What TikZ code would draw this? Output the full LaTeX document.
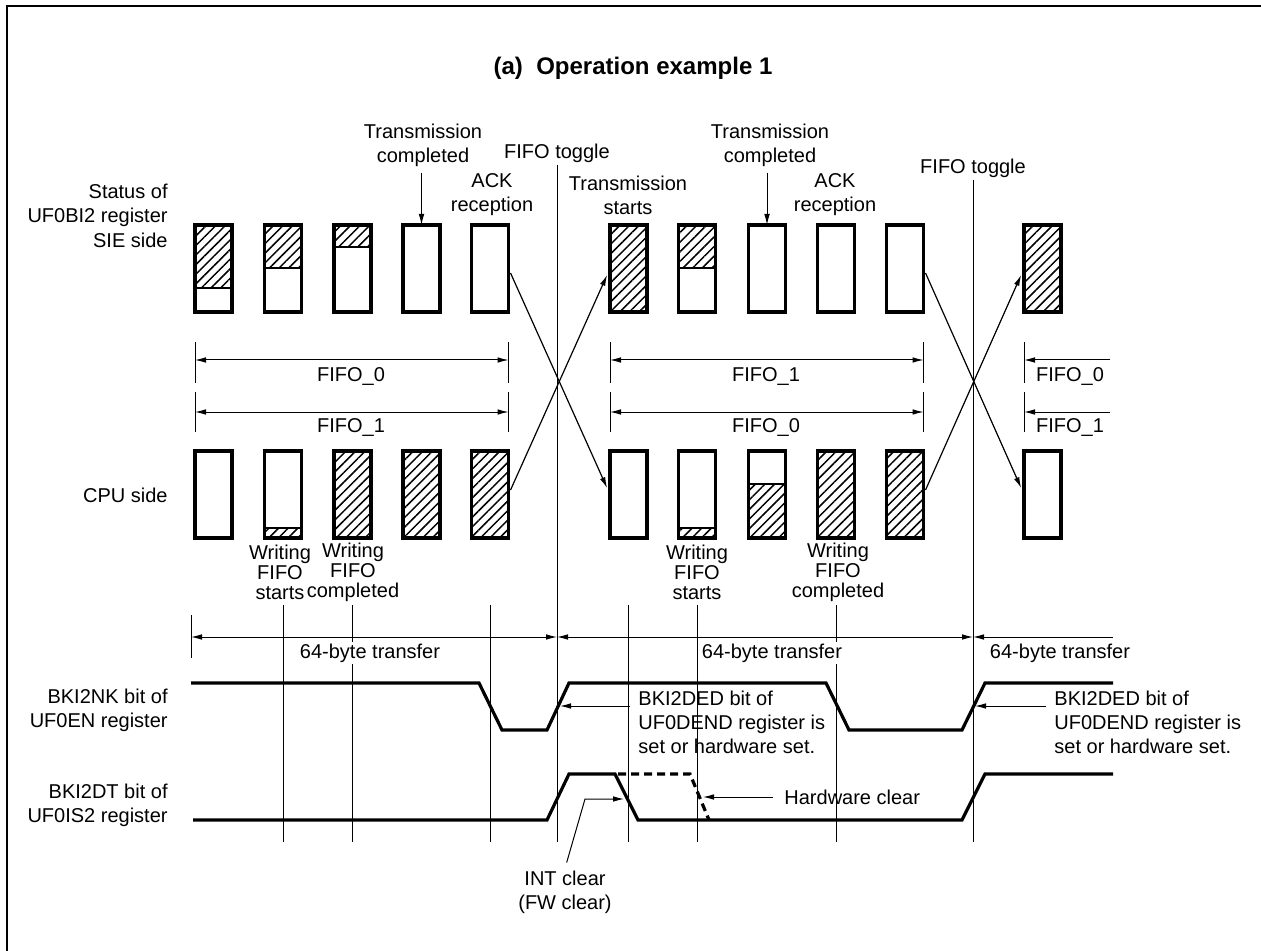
\documentclass[tikz,border=0pt]{standalone}
\usepackage{fontspec}
\setmainfont{Liberation Sans}
\usetikzlibrary{arrows.meta,patterns.meta}

\tikzset{
  hatch/.style={pattern={Lines[angle=45,distance=3.4pt,line width=0.75pt]}},
  fifobox/.style={draw, line width=1.7pt, minimum width=18.5pt, minimum height=43.5pt,
    inner sep=0pt, outer sep=0pt},
  hatchtop/.style={path picture={
    \fill[hatch] (path picture bounding box.north west) rectangle ([yshift=-#1]path picture bounding box.north east);
    \draw[line width=0.6pt] ([yshift=-#1]path picture bounding box.north west) -- ([yshift=-#1]path picture bounding box.north east);}},
  hatchbot/.style={path picture={
    \fill[hatch] (path picture bounding box.south west) rectangle ([yshift=#1]path picture bounding box.south east);
    \draw[line width=0.6pt] ([yshift=#1]path picture bounding box.south west) -- ([yshift=#1]path picture bounding box.south east);}},
  thinline/.style={line width=0.5pt},
  toggleline/.style={line width=0.5pt},
  wave/.style={line width=1.6pt},
  arr/.style={line width=0.5pt, -{Latex[length=5.5pt,width=2.8pt]}},
  dimarr/.style={line width=0.5pt, {Latex[length=5.5pt,width=2.8pt]}-{Latex[length=5.5pt,width=2.8pt]}},
  swap/.style={line width=0.6pt, -{Latex[length=5.5pt,width=2.8pt]}, shorten <=2.5pt, shorten >=3.5pt},
  event/.style={align=center, font=\fontsize{10}{10}\selectfont}
}

\begin{document}
\begin{tikzpicture}[x=0.5pt, y=-0.5pt, every node/.style={font=\fontsize{10}{12}\selectfont, inner sep=1pt}]
  \useasboundingbox (0,0) rectangle (1261,951);
  \draw[line width=1.25pt] (1261,6) -- (7,6) -- (7,951);

  \node[font=\fontsize{12}{14}\selectfont\bfseries] (title) at (633,68) {(a)\ \ Operation example 1};

  % row labels
  \node[anchor=east, align=right] (stat) at (170,205) {Status of\\UF0BI2 register};
  \node[anchor=east] (sie) at (170,240) {SIE side};
  \node[anchor=east] (cpu) at (170,495) {CPU side};
  \node[anchor=east, align=right] (nk) at (170,710) {BKI2NK bit of\\UF0EN register};
  \node[anchor=east, align=right] (dt) at (170,805) {BKI2DT bit of\\UF0IS2 register};

  % SIE side buffers
  \node[fifobox, hatchtop=31.5pt] (s1) at (213.5,268.5) {};
  \node[fifobox, hatchtop=21.5pt] (s2) at (283,268.5) {};
  \node[fifobox, hatchtop=11pt] (s3) at (352.5,268.5) {};
  \node[fifobox] (s4) at (421.5,268.5) {};
  \node[fifobox] (s5) at (490,268.5) {};
  \node[fifobox, hatch] (s6) at (628.5,268.5) {};
  \node[fifobox, hatchtop=21.5pt] (s7) at (697,268.5) {};
  \node[fifobox] (s8) at (767,268.5) {};
  \node[fifobox] (s9) at (836,268.5) {};
  \node[fifobox] (s10) at (905,268.5) {};
  \node[fifobox, hatch] (s11) at (1042.5,268.5) {};

  % CPU side buffers
  \node[fifobox] (c1) at (213.5,494.5) {};
  \node[fifobox, hatchbot=5pt] (c2) at (283,494.5) {};
  \node[fifobox, hatch] (c3) at (352.5,494.5) {};
  \node[fifobox, hatch] (c4) at (421.5,494.5) {};
  \node[fifobox, hatch] (c5) at (490,494.5) {};
  \node[fifobox] (c6) at (628.5,494.5) {};
  \node[fifobox, hatchbot=5pt] (c7) at (697,494.5) {};
  \node[fifobox, hatchbot=27pt] (c8) at (767,494.5) {};
  \node[fifobox, hatch] (c9) at (836,494.5) {};
  \node[fifobox, hatch] (c10) at (905,494.5) {};
  \node[fifobox] (c11) at (1042.5,494.5) {};

  % events above the SIE side
  \node[align=center] (tc1) at (423,145) {Transmission\\completed};
  \draw[arr, shorten <=2pt] (tc1.south -| s4.north) -- (s4.north);
  \node[align=center] (ack1) at (492,195) {ACK\\reception};
  \node[align=center] (ts2) at (628,195) {Transmission\\starts};
  \node[align=center] (tc2) at (770,145) {Transmission\\completed};
  \draw[arr, shorten <=2pt] (tc2.south -| s8.north) -- (s8.north);
  \node[align=center] (ack2) at (835,195) {ACK\\reception};

  % events below the CPU side
  \node[event] (wfs1) at (280,572) {Writing\\FIFO\\starts};
  \node[event] (wfc1) at (353,572) {Writing\\FIFO\\completed};
  \node[event] (wfs2) at (697,572) {Writing\\FIFO\\starts};
  \node[event] (wfc2) at (838,572) {Writing\\FIFO\\completed};

  % time markers
  \foreach \b in {c2,c3,c5,c6,c7,c9}
    \draw[thinline] (\b |- 0,605) -- (\b |- 0,842);

  % FIFO toggle
  \node (tog1) at (557,153) {FIFO toggle};
  \draw[toggleline] (tog1.south) -- (tog1.south |- 0,842);
  \node (tog2) at (973,168) {FIFO toggle};
  \draw[toggleline] (tog2.south) -- (tog2.south |- 0,842);

  \draw[swap] (s5.east) -- (c6.west);
  \draw[swap] (c5.east) -- (s6.west);
  \draw[swap] (s10.east) -- (c11.west);
  \draw[swap] (c10.east) -- (s11.west);

  % FIFO ranges
  \foreach \t in {s1.west,s5.east,s6.west,s10.east,s11.west} {
    \draw[thinline] (\t |- 0,342) -- (\t |- 0,383);
    \draw[thinline] (\t |- 0,392) -- (\t |- 0,432);
  }
  \draw[dimarr] (s1.west |- 0,360) -- (s5.east |- 0,360);
  \node (fa0) at (351,377) {FIFO\_0};
  \draw[dimarr] (s1.west |- 0,412) -- (s5.east |- 0,412);
  \node (fa1) at (351,428) {FIFO\_1};
  \draw[dimarr] (s6.west |- 0,360) -- (s10.east |- 0,360);
  \node (fb1) at (766,377) {FIFO\_1};
  \draw[dimarr] (s6.west |- 0,412) -- (s10.east |- 0,412);
  \node (fb0) at (766,428) {FIFO\_0};
  \draw[arr] (1110,360) -- (s11.west |- 0,360);
  \node (fc0) at (1070,377) {FIFO\_0};
  \draw[arr] (1110,412) -- (s11.west |- 0,412);
  \node (fc1) at (1070,428) {FIFO\_1};

  % transfer periods
  \draw[thinline] (191,615) -- (191,658);
  \draw[dimarr] (191,637) -- (tog1 |- 0,637);
  \draw[dimarr] (tog1 |- 0,637) -- (tog2 |- 0,637);
  \draw[thinline, {Latex[length=5.5pt,width=2.8pt]}-] (tog2 |- 0,637) -- (1113,637);
  \node[fill=white] (byte1) at (370,653) {64-byte transfer};
  \node[fill=white] (byte2) at (772,653) {64-byte transfer};
  \node[fill=white] (byte3) at (1060,653) {64-byte transfer};

  % BKI2NK
  \draw[wave] (191,683) -- (479,683) -- (502,730) -- (547,730) -- (569,683) -- (826,683)
    -- (849,730) -- (962,730) -- (985,683) -- (1113,683);
  % BKI2DT
  \draw[wave] (193,820) -- (547,820) -- (569,774) -- (615,774) -- (638,820) -- (962,820)
    -- (985,774) -- (1113,774);
  \draw[wave, dash pattern=on 4pt off 2.5pt] (618,774) -- (690,774) -- (709,820);

  \coordinate (nkrise1) at (560,706);
  \node[anchor=west, align=left] (ded1) at (636,722) {BKI2DED bit of\\UF0DEND register is\\set or hardware set.};
  \draw[arr, shorten <=3pt] (ded1.west |- nkrise1) -- (nkrise1);
  \coordinate (nkrise2) at (975,706);
  \node[anchor=west, align=left] (ded2) at (1052,722) {BKI2DED bit of\\UF0DEND register is\\set or hardware set.};
  \draw[arr, shorten <=3pt] (ded2.west |- nkrise2) -- (nkrise2);

  \coordinate (hwfall) at (703,797);
  \node[anchor=west] (hw) at (782,797) {Hardware clear};
  \draw[arr, shorten <=4.5pt] (hw.west) -- (hwfall);

  \coordinate (intfall) at (624,799);
  \coordinate (intbend) at (585,799);
  \node[align=center] (int) at (565,892) {INT clear\\(FW clear)};
  \draw[arr, shorten <=3pt] (int.north) -- (intbend) -- (intfall);
\end{tikzpicture}
\end{document}
